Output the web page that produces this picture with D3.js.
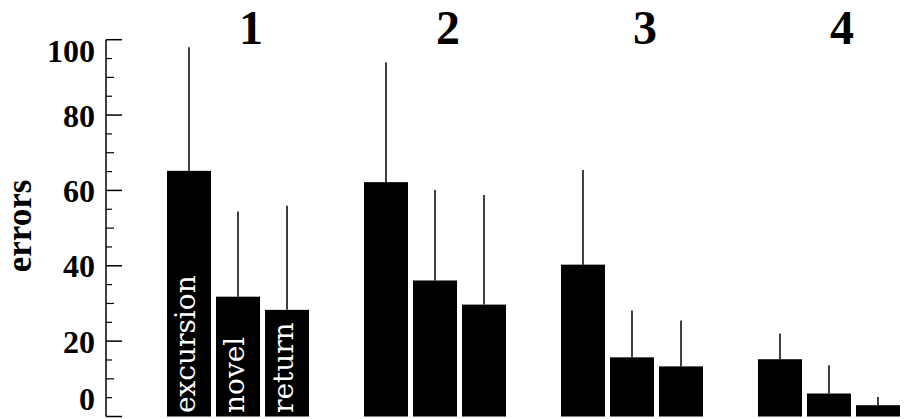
<!DOCTYPE html>
<html>
<head>
<meta charset="utf-8">
<script src="https://cdn.jsdelivr.net/npm/d3@7"></script>
<style>
  html, body { margin: 0; padding: 0; background: #fff; }
  svg { display: block; }
</style>
</head>
<body>
<svg id="chart" width="904" height="419"></svg>
<script>
// ---- data ----
const groups = ["1", "2", "3", "4"];
const series = ["excursion", "novel", "return"];
const excursionMean = [65.2, 62.2, 40.3, 15.2];
const novelMean     = [31.8, 36.1, 15.7, 6.1];
const returnMean    = [28.3, 29.7, 13.3, 3.0];
const excursionErr  = [32.8, 31.8, 25.1, 6.8];
const novelErr      = [22.6, 24.0, 12.4, 7.5];
const returnErr     = [27.6, 29.1, 12.2, 2.2];
const yTickValues   = [0, 20, 40, 60, 80, 100];
const yLabel = "errors";

const means = { excursion: excursionMean, novel: novelMean, return: returnMean };
const errs  = { excursion: excursionErr,  novel: novelErr,  return: returnErr };

const rows = [];
groups.forEach((g, gi) => series.forEach(s => rows.push({
  group: g, series: s, mean: means[s][gi], err: errs[s][gi]
})));

// ---- layout ----
const svg = d3.select("#chart");
const serif = "'Liberation Serif', 'Times New Roman', serif";

const y = d3.scaleLinear().domain([0, 100]).range([416.5, 39.7]);
const x0 = d3.scaleBand().domain(groups).range([167, 900]).paddingInner(0.279).paddingOuter(0);
const x1 = d3.scaleBand().domain(series).range([0, x0.bandwidth()]).paddingInner(0.102).paddingOuter(0);

// ---- y axis ----
const axisX = 106;
const ax = svg.append("g");
ax.append("line")
  .attr("x1", axisX).attr("x2", axisX)
  .attr("y1", y(100)).attr("y2", y(0))
  .attr("stroke", "#000").attr("stroke-width", 1.5);

const minor = d3.range(0, 101, 5).filter(v => v % 20 !== 0);
ax.selectAll("line.minor").data(minor).join("line")
  .attr("class", "minor")
  .attr("x1", axisX).attr("x2", d => axisX + (d % 10 === 0 ? 8 : 6))
  .attr("y1", d => y(d)).attr("y2", d => y(d))
  .attr("stroke", "#000").attr("stroke-width", 1.2);

ax.selectAll("line.major").data(yTickValues).join("line")
  .attr("class", "major")
  .attr("x1", axisX).attr("x2", axisX + 16)
  .attr("y1", d => y(d)).attr("y2", d => y(d))
  .attr("stroke", "#000").attr("stroke-width", 1.5);

ax.selectAll("text.tl").data(yTickValues).join("text")
  .attr("class", "tl")
  .attr("x", 95)
  .attr("y", d => y(d))
  .attr("dy", d => d === 100 ? "0.7em" : (d === 0 ? "-0.2em" : "0.36em"))
  .attr("text-anchor", "end")
  .attr("font-family", serif)
  .attr("font-weight", "bold")
  .attr("font-size", 32)
  .attr("fill", "#000")
  .text(d => d);

svg.append("text")
  .attr("transform", `translate(31, 226) rotate(-90)`)
  .attr("text-anchor", "middle")
  .attr("font-family", serif)
  .attr("font-weight", "bold")
  .attr("font-size", 35)
  .attr("fill", "#000")
  .text(yLabel);

// ---- group labels ----
svg.selectAll("text.gl").data(groups).join("text")
  .attr("class", "gl")
  .attr("x", d => x0(d) + x0.bandwidth() / 2 + 13)
  .attr("y", 44)
  .attr("text-anchor", "middle")
  .attr("font-family", serif)
  .attr("font-weight", "bold")
  .attr("font-size", 48)
  .attr("fill", "#000")
  .text(d => d);

// ---- error bars ----
svg.selectAll("line.err").data(rows).join("line")
  .attr("class", "err")
  .attr("x1", d => x0(d.group) + x1(d.series) + x1.bandwidth() / 2)
  .attr("x2", d => x0(d.group) + x1(d.series) + x1.bandwidth() / 2)
  .attr("y1", d => y(d.mean))
  .attr("y2", d => y(d.mean + d.err))
  .attr("stroke", "#000").attr("stroke-width", 1.5);

// ---- bars ----
svg.selectAll("rect.bar").data(rows).join("rect")
  .attr("class", "bar")
  .attr("x", d => x0(d.group) + x1(d.series))
  .attr("width", x1.bandwidth())
  .attr("y", d => y(d.mean))
  .attr("height", d => y(0) - y(d.mean))
  .attr("fill", "#000");

// ---- bar labels (first group) ----
svg.selectAll("text.bl").data(series).join("text")
  .attr("class", "bl")
  .attr("transform", d => `translate(${x0(groups[0]) + x1(d) + x1.bandwidth() / 2 + 6}, 413) rotate(-90)`)
  .attr("text-anchor", "start")
  .attr("font-family", "'DejaVu Serif', serif")
  .attr("font-size", 28)
  .attr("fill", "#fff")
  .text(d => d);
</script>
</body>
</html>
